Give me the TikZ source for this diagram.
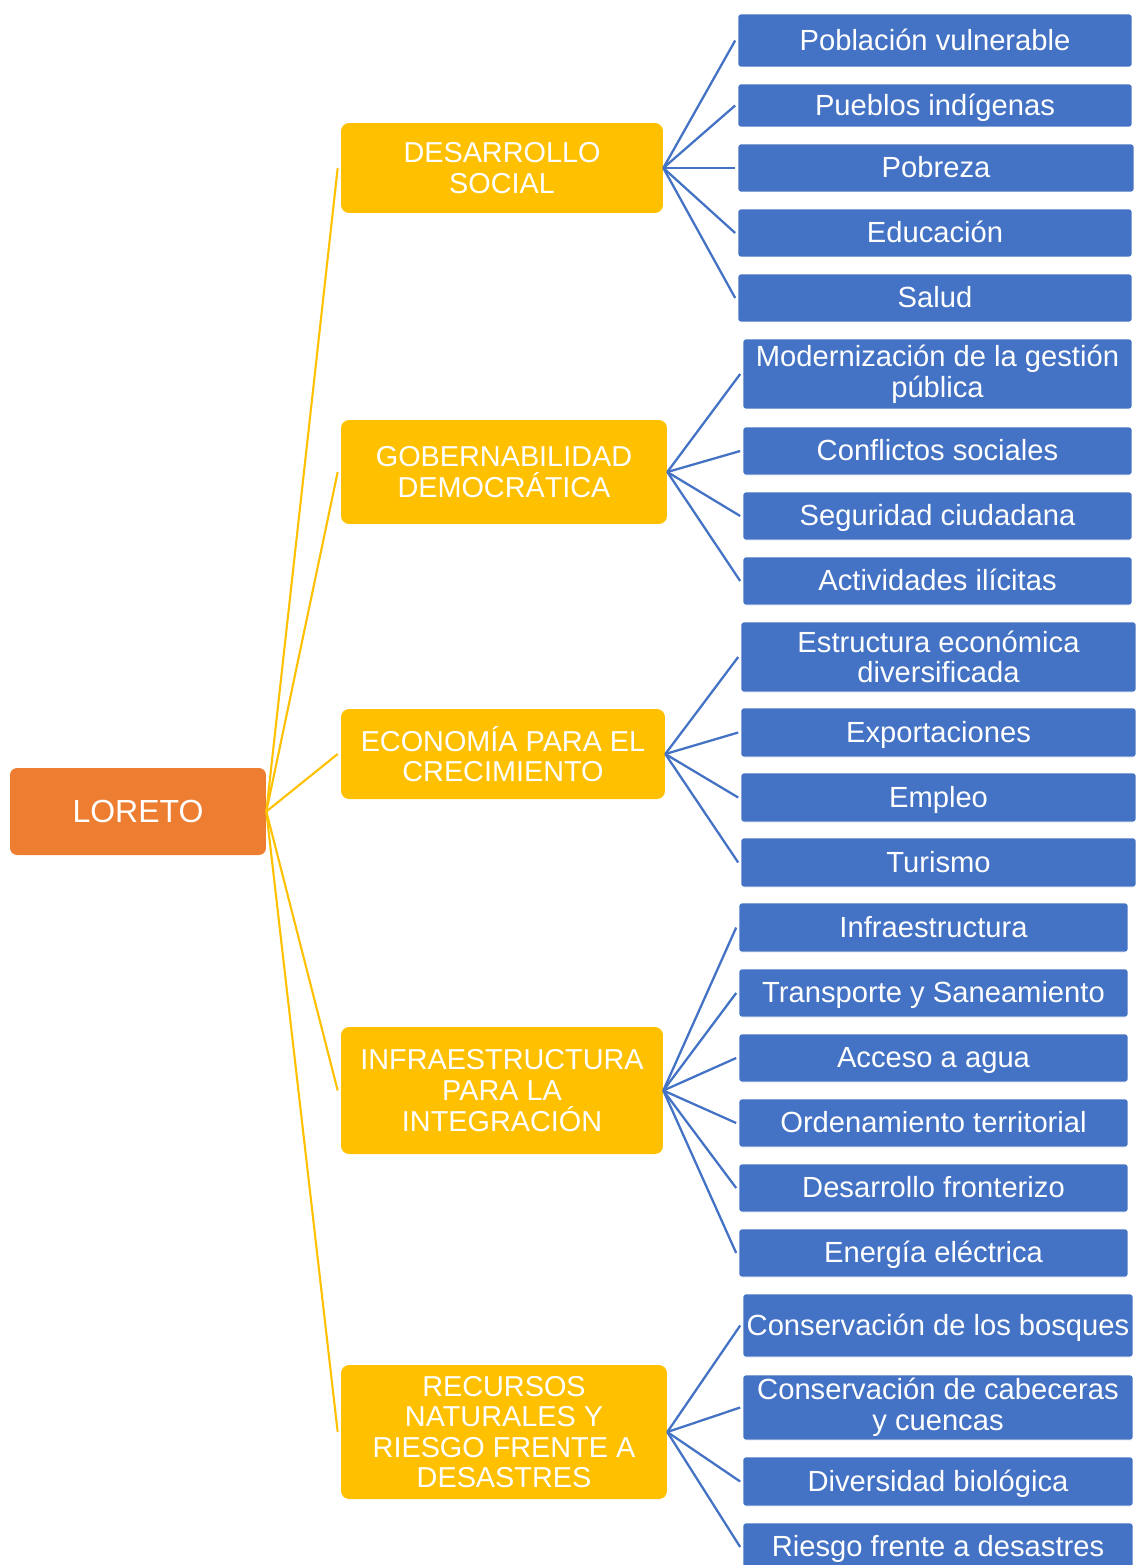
\documentclass[tikz,border=0pt]{standalone}
\usepackage{fontspec}
\setmainfont{Liberation Sans}
\usepackage{tikz}
\usetikzlibrary{shapes}

\definecolor{loretoorange}{HTML}{ED7D31}
\definecolor{areayellow}{HTML}{FFC000}
\definecolor{topicblue}{HTML}{4472C4}

\begin{document}
\begin{tikzpicture}
[x=0.02cm,y=-0.02cm]
\tikzset{
	root/.style = {rectangle, rounded corners=4pt, fill=loretoorange, text=white, inner sep=0, font=\fontsize{18.2}{20}\selectfont},
	area/.style = {rectangle, rounded corners=0.16cm, fill=areayellow, text=white, inner sep=0, align=center, font=\fontsize{16.4}{17.4}\selectfont},
	topic/.style = {rectangle, rounded corners=1.5pt, fill=topicblue, draw=white, line width=0.4pt, text=white, inner sep=0, font=\fontsize{16.6}{17.5}\selectfont},
	oneline/.style = {text height=11.9pt, text depth=1pt},
	twoline/.style = {align=center},
	trunk/.style = {draw=areayellow, line width=1.2pt},
	branch/.style = {draw=topicblue, line width=1.3pt}
}
\useasboundingbox (0,0) rectangle (1136,1565);

\node (loreto) [root, minimum width=5.12cm, minimum height=1.74cm] at (138,811.5) {LORETO};

\node (soc) [area, minimum width=6.44cm, minimum height=1.8cm] at (502,168) {DESARROLLO\\SOCIAL};
\node (gob) [area, minimum width=6.52cm, minimum height=2.08cm] at (504,472) {GOBERNABILIDAD\\DEMOCRÁTICA};
\node (eco) [area, minimum width=6.48cm, minimum height=1.8cm] at (503,754) {ECONOMÍA PARA EL\\CRECIMIENTO};
\node (inf) [area, minimum width=6.44cm, minimum height=2.54cm] at (502,1090.5) {INFRAESTRUCTURA\\PARA LA\\INTEGRACIÓN};
\node (rec) [area, minimum width=6.52cm, minimum height=2.68cm] at (504,1432) {RECURSOS\\NATURALES Y\\RIESGO FRENTE A\\DESASTRES};

\node (soc1) [topic, oneline, minimum width=7.88cm, minimum height=1.06cm] at (935,40.5) {Población vulnerable};
\node (soc2) [topic, oneline, minimum width=7.88cm, minimum height=0.86cm] at (935,105.5) {Pueblos indígenas};
\node (soc3) [topic, oneline, minimum width=7.92cm, minimum height=0.96cm] at (936,168) {Pobreza};
\node (soc4) [topic, oneline, minimum width=7.88cm, minimum height=0.96cm] at (935,233) {Educación};
\node (soc5) [topic, oneline, minimum width=7.88cm, minimum height=0.96cm] at (935,298) {Salud};

\node (gob1) [topic, twoline, minimum width=7.78cm, minimum height=1.4cm] at (937.5,374) {Modernización de la gestión\\pública};
\node (gob2) [topic, oneline, minimum width=7.78cm, minimum height=0.96cm] at (937.5,451) {Conflictos sociales};
\node (gob3) [topic, oneline, minimum width=7.78cm, minimum height=0.96cm] at (937.5,516) {Seguridad ciudadana};
\node (gob4) [topic, oneline, minimum width=7.78cm, minimum height=0.96cm] at (937.5,581) {Actividades ilícitas};

\node (eco1) [topic, twoline, minimum width=7.9cm, minimum height=1.4cm] at (938.5,657) {Estructura económica\\diversificada};
\node (eco2) [topic, oneline, minimum width=7.9cm, minimum height=0.98cm] at (938.5,732.5) {Exportaciones};
\node (eco3) [topic, oneline, minimum width=7.9cm, minimum height=0.98cm] at (938.5,797.5) {Empleo};
\node (eco4) [topic, oneline, minimum width=7.9cm, minimum height=0.98cm] at (938.5,862.5) {Turismo};

\node (inf1) [topic, oneline, minimum width=7.78cm, minimum height=0.98cm] at (933.5,927.5) {Infraestructura};
\node (inf2) [topic, oneline, minimum width=7.78cm, minimum height=0.96cm] at (933.5,993) {Transporte y Saneamiento};
\node (inf3) [topic, oneline, minimum width=7.78cm, minimum height=0.96cm] at (933.5,1058) {Acceso a agua};
\node (inf4) [topic, oneline, minimum width=7.78cm, minimum height=0.96cm] at (933.5,1123) {Ordenamiento territorial};
\node (inf5) [topic, oneline, minimum width=7.78cm, minimum height=0.96cm] at (933.5,1188) {Desarrollo fronterizo};
\node (inf6) [topic, oneline, minimum width=7.78cm, minimum height=0.96cm] at (933.5,1253) {Energía eléctrica};

\node (rec1) [topic, oneline, minimum width=7.8cm, minimum height=1.26cm] at (938,1325.5) {Conservación de los bosques};
\node (rec2) [topic, twoline, minimum width=7.8cm, minimum height=1.3cm] at (938,1407.5) {Conservación de cabeceras\\y cuencas};
\node (rec3) [topic, oneline, minimum width=7.8cm, minimum height=0.98cm] at (938,1481.5) {Diversidad biológica};
\node (rec4) [topic, oneline, minimum width=7.8cm, minimum height=0.96cm] at (938,1547) {Riesgo frente a desastres};

\draw [trunk] (loreto.east) -- ([xshift=-0.06cm]soc.west);
\draw [trunk] (loreto.east) -- ([xshift=-0.06cm]gob.west);
\draw [trunk] (loreto.east) -- ([xshift=-0.06cm]eco.west);
\draw [trunk] (loreto.east) -- ([xshift=-0.06cm]inf.west);
\draw [trunk] (loreto.east) -- ([xshift=-0.06cm]rec.west);

\draw [branch] (soc.east) -- ([xshift=-0.05cm]soc1.west);
\draw [branch] (soc.east) -- ([xshift=-0.05cm]soc2.west);
\draw [branch] (soc.east) -- ([xshift=-0.05cm]soc3.west);
\draw [branch] (soc.east) -- ([xshift=-0.05cm]soc4.west);
\draw [branch] (soc.east) -- ([xshift=-0.05cm]soc5.west);

\draw [branch] (gob.east) -- ([xshift=-0.05cm]gob1.west);
\draw [branch] (gob.east) -- ([xshift=-0.05cm]gob2.west);
\draw [branch] (gob.east) -- ([xshift=-0.05cm]gob3.west);
\draw [branch] (gob.east) -- ([xshift=-0.05cm]gob4.west);

\draw [branch] (eco.east) -- ([xshift=-0.05cm]eco1.west);
\draw [branch] (eco.east) -- ([xshift=-0.05cm]eco2.west);
\draw [branch] (eco.east) -- ([xshift=-0.05cm]eco3.west);
\draw [branch] (eco.east) -- ([xshift=-0.05cm]eco4.west);

\draw [branch] (inf.east) -- ([xshift=-0.05cm]inf1.west);
\draw [branch] (inf.east) -- ([xshift=-0.05cm]inf2.west);
\draw [branch] (inf.east) -- ([xshift=-0.05cm]inf3.west);
\draw [branch] (inf.east) -- ([xshift=-0.05cm]inf4.west);
\draw [branch] (inf.east) -- ([xshift=-0.05cm]inf5.west);
\draw [branch] (inf.east) -- ([xshift=-0.05cm]inf6.west);

\draw [branch] (rec.east) -- ([xshift=-0.05cm]rec1.west);
\draw [branch] (rec.east) -- ([xshift=-0.05cm]rec2.west);
\draw [branch] (rec.east) -- ([xshift=-0.05cm]rec3.west);
\draw [branch] (rec.east) -- ([xshift=-0.05cm]rec4.west);

\end{tikzpicture}
\end{document}
